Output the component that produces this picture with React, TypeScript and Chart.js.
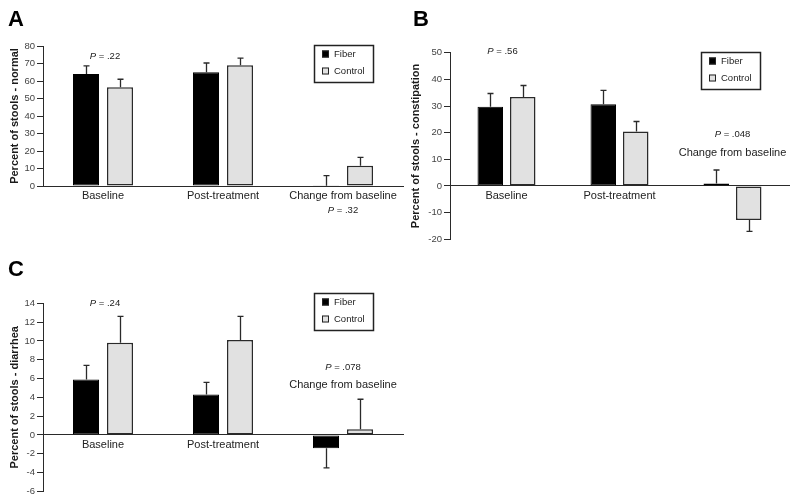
import React, { useEffect, useRef } from "react";
import { Chart, registerables } from "chart.js";

Chart.register(...registerables);

// ---------------- data ----------------
const categories = ["Baseline", "Post-treatment", "Change from baseline"];
const seriesNames = ["Fiber", "Control"];

// Panel A – percent of stools normal
const normalFiber = [64, 65, 0.2];
const normalFiberErr = [4.7, 5.3, 5.7];
const normalControl = [56.4, 69, 11.6];
const normalControlErr = [4.6, 4.1, 4.8];
const normalTicks = [0, 10, 20, 30, 40, 50, 60, 70, 80];

// Panel B – percent of stools constipation
const constFiber = [29.7, 30.7, 0.9];
const constFiberErr = [5.0, 5.2, 5.1];
const constControl = [33.4, 20.4, -12.8];
const constControlErr = [4.3, 3.8, 4.2];
const constTicks = [-20, -10, 0, 10, 20, 30, 40, 50];

// Panel C – percent of stools diarrhea
const diarFiber = [5.9, 4.3, -1.4];
const diarFiberErr = [1.5, 1.3, 2.1];
const diarControl = [9.8, 10.1, 0.6];
const diarControlErr = [2.8, 2.5, 3.2];
const diarTicks = [-6, -4, -2, 0, 2, 4, 6, 8, 10, 12, 14];

// P values
const pA = [".22", ".32"];
const pB = [".56", ".048"];
const pC = [".24", ".078"];

// ---------------- styles ----------------
const FONT = "'Liberation Sans', Arial, Helvetica, sans-serif";
const FIBER_COLOR = "#000000";
const CONTROL_COLOR = "#e1e1e1";
const EDGE = "#2a2a2a";

type Note = { cat: number; value: number; p?: string; text?: string; dx?: number };

type Panel = {
  letter: string;
  letterX: number;
  letterY: number;
  yTitle: string;
  fiber: number[];
  fiberErr: number[];
  control: number[];
  controlErr: number[];
  ticks: number[];
  padding: { left: number; top: number; right: number; bottom: number };
  yWidth: number;
  titlePad: number;
  hideLast: boolean;
  notes: Note[];
  legend: { x: number; y: number };
  catPct: number;
  barPct: number;
};

const panels: Panel[] = [
  {
    letter: "A",
    letterX: 8,
    letterY: 26,
    yTitle: "Percent of stools - normal",
    fiber: normalFiber,
    fiberErr: normalFiberErr,
    control: normalControl,
    controlErr: normalControlErr,
    ticks: normalTicks,
    padding: { left: 0, top: 46, right: 397, bottom: 316 },
    yWidth: 43,
    titlePad: 8,
    hideLast: false,
    notes: [
      { cat: 0, value: 74.3, p: pA[0], dx: 2 },
      { cat: 2, value: -14, p: pA[1] },
    ],
    legend: { x: 314, y: 45 },
    catPct: 0.567,
    barPct: 0.765,
  },
  {
    letter: "B",
    letterX: 413,
    letterY: 26,
    yTitle: "Percent of stools - constipation",
    fiber: constFiber,
    fiberErr: constFiberErr,
    control: constControl,
    controlErr: constControlErr,
    ticks: constTicks,
    padding: { left: 400, top: 52.7, right: 11, bottom: 262.7 },
    yWidth: 50,
    titlePad: 9,
    hideLast: true,
    notes: [
      { cat: 0, value: 50.6, p: pB[0], dx: -4 },
      { cat: 2, value: 19.5, p: pB[1] },
      { cat: 2, value: 12.4, text: categories[2] },
    ],
    legend: { x: 701, y: 52 },
    catPct: 0.575,
    barPct: 0.785,
  },
  {
    letter: "C",
    letterX: 8,
    letterY: 276,
    yTitle: "Percent of stools - diarrhea",
    fiber: diarFiber,
    fiberErr: diarFiberErr,
    control: diarControl,
    controlErr: diarControlErr,
    ticks: diarTicks,
    padding: { left: 0, top: 303.3, right: 397, bottom: 10.6 },
    yWidth: 43,
    titlePad: 8,
    hideLast: true,
    notes: [
      { cat: 0, value: 14, p: pC[0], dx: 2 },
      { cat: 2, value: 7.2, p: pC[1] },
      { cat: 2, value: 5.3, text: categories[2] },
    ],
    legend: { x: 314, y: 293 },
    catPct: 0.567,
    barPct: 0.765,
  },
];

// ---------------- plugin ----------------
const overlayPlugin = {
  id: "overlay",
  afterDatasetsDraw(chart: any, _args: any, opts: any) {
    const panel: Panel = opts.panel;
    if (!panel) return;
    const ctx: CanvasRenderingContext2D = chart.ctx;
    const ys = chart.scales.y;
    const xs = chart.scales.x;

    // error bars
    const errs = [panel.fiberErr, panel.controlErr];
    errs.forEach((errArr, di) => {
      const meta = chart.getDatasetMeta(di);
      meta.data.forEach((bar: any, i: number) => {
        const v = chart.data.datasets[di].data[i] as number;
        const e = errArr[i];
        const end = ys.getPixelForValue(v < 0 ? v - e : v + e);
        const bx = Math.round(bar.x) + 0.5;
        ctx.save();
        ctx.strokeStyle = EDGE;
        ctx.lineWidth = 1.3;
        ctx.beginPath();
        ctx.moveTo(bx, bar.y);
        ctx.lineTo(bx, end);
        ctx.moveTo(bx - 3, end);
        ctx.lineTo(bx + 3, end);
        ctx.stroke();
        ctx.restore();
      });
    });

    // annotations
    panel.notes.forEach((n) => {
      const cx = xs.getPixelForValue(n.cat) + (n.dx || 0);
      const cy = ys.getPixelForValue(n.value);
      ctx.save();
      ctx.fillStyle = "#222";
      ctx.textBaseline = "middle";
      if (n.p) {
        const italic = `italic 9.5px ${FONT}`;
        const normal = `9.5px ${FONT}`;
        ctx.font = italic;
        const w1 = ctx.measureText("P").width;
        const rest = ` = ${n.p}`;
        ctx.font = normal;
        const w2 = ctx.measureText(rest).width;
        const x0 = cx - (w1 + w2) / 2;
        ctx.textAlign = "left";
        ctx.font = italic;
        ctx.fillText("P", x0, cy);
        ctx.font = normal;
        ctx.fillText(rest, x0 + w1, cy);
      } else if (n.text) {
        ctx.font = `11px ${FONT}`;
        ctx.textAlign = "center";
        ctx.fillText(n.text, cx, cy);
      }
      ctx.restore();
    });

    // legend
    const lx = panel.legend.x;
    const ly = panel.legend.y;
    ctx.save();
    ctx.strokeStyle = "#222";
    ctx.lineWidth = 1.5;
    ctx.strokeRect(lx + 0.5, ly + 0.5, 59, 37);
    const rows = [
      { name: seriesNames[0], fill: FIBER_COLOR, dy: 9 },
      { name: seriesNames[1], fill: CONTROL_COLOR, dy: 26 },
    ];
    rows.forEach((r) => {
      const sy = ly + r.dy;
      ctx.fillStyle = r.fill;
      ctx.fillRect(lx + 8, sy - 3.5, 7, 7);
      ctx.strokeStyle = "#222";
      ctx.lineWidth = 1;
      ctx.strokeRect(lx + 8.5, sy - 3, 6, 6);
      ctx.fillStyle = "#222";
      ctx.font = `9.5px ${FONT}`;
      ctx.textAlign = "left";
      ctx.textBaseline = "middle";
      ctx.fillText(r.name, lx + 20, sy + 0.5);
    });
    ctx.restore();

    // panel letter
    ctx.save();
    ctx.fillStyle = "#000";
    ctx.font = `bold 22px ${FONT}`;
    ctx.textAlign = "left";
    ctx.textBaseline = "alphabetic";
    ctx.fillText(panel.letter, panel.letterX, panel.letterY);
    ctx.restore();
  },
};

function makeConfig(panel: Panel): any {
  const tmin = panel.ticks[0];
  const tmax = panel.ticks[panel.ticks.length - 1];
  const step = panel.ticks[1] - panel.ticks[0];
  return {
    type: "bar",
    data: {
      labels: categories,
      datasets: [
        {
          label: seriesNames[0],
          data: panel.fiber,
          backgroundColor: FIBER_COLOR,
          borderColor: FIBER_COLOR,
          borderWidth: 1,
          borderSkipped: false,
          categoryPercentage: panel.catPct,
          barPercentage: panel.barPct,
        },
        {
          label: seriesNames[1],
          data: panel.control,
          backgroundColor: CONTROL_COLOR,
          borderColor: EDGE,
          borderWidth: 1.5,
          borderSkipped: false,
          categoryPercentage: panel.catPct,
          barPercentage: panel.barPct,
        },
      ],
    },
    options: {
      responsive: false,
      animation: false,
      events: [],
      layout: { padding: panel.padding },
      plugins: {
        legend: { display: false },
        tooltip: { enabled: false },
        title: { display: false },
        overlay: { panel },
      },
      scales: {
        x: {
          position: { y: 0 },
          offset: true,
          grid: { display: false, drawTicks: false },
          border: { display: true, color: EDGE, width: 1 },
          ticks: {
            autoSkip: false,
            maxRotation: 0,
            minRotation: 0,
            padding: 3,
            color: "#222",
            font: { family: FONT, size: 11 },
            callback: (_v: any, i: number) =>
              panel.hideLast && i === 2 ? "" : categories[i],
          },
        },
        y: {
          position: "left",
          min: tmin,
          max: tmax,
          afterFit: (s: any) => {
            s.width = panel.yWidth;
          },
          grid: {
            display: true,
            drawOnChartArea: false,
            drawTicks: true,
            tickLength: 6,
            color: EDGE,
            lineWidth: 1,
          },
          border: { display: true, color: EDGE, width: 1 },
          ticks: {
            stepSize: step,
            padding: 2,
            color: "#444",
            font: { family: FONT, size: 9.5 },
          },
          title: {
            display: true,
            text: panel.yTitle,
            color: "#1a1a1a",
            font: { family: FONT, size: 11, weight: "bold" },
            padding: { top: panel.titlePad, bottom: 0 },
          },
        },
      },
    },
    plugins: [overlayPlugin],
  };
}

function PanelChart({ panel }: { panel: Panel }) {
  const ref = useRef<HTMLCanvasElement | null>(null);
  useEffect(() => {
    if (!ref.current) return;
    const chart = new Chart(ref.current, makeConfig(panel));
    return () => chart.destroy();
  }, [panel]);
  return (
    <canvas
      ref={ref}
      width={800}
      height={502}
      style={{ position: "absolute", left: 0, top: 0, width: 800, height: 502 }}
    />
  );
}

export default function App() {
  return (
    <div
      style={{
        position: "fixed",
        left: 0,
        top: 0,
        width: 800,
        height: 502,
        background: "#ffffff",
        overflow: "hidden",
      }}
    >
      {panels.map((p) => (
        <PanelChart key={p.letter} panel={p} />
      ))}
    </div>
  );
}
